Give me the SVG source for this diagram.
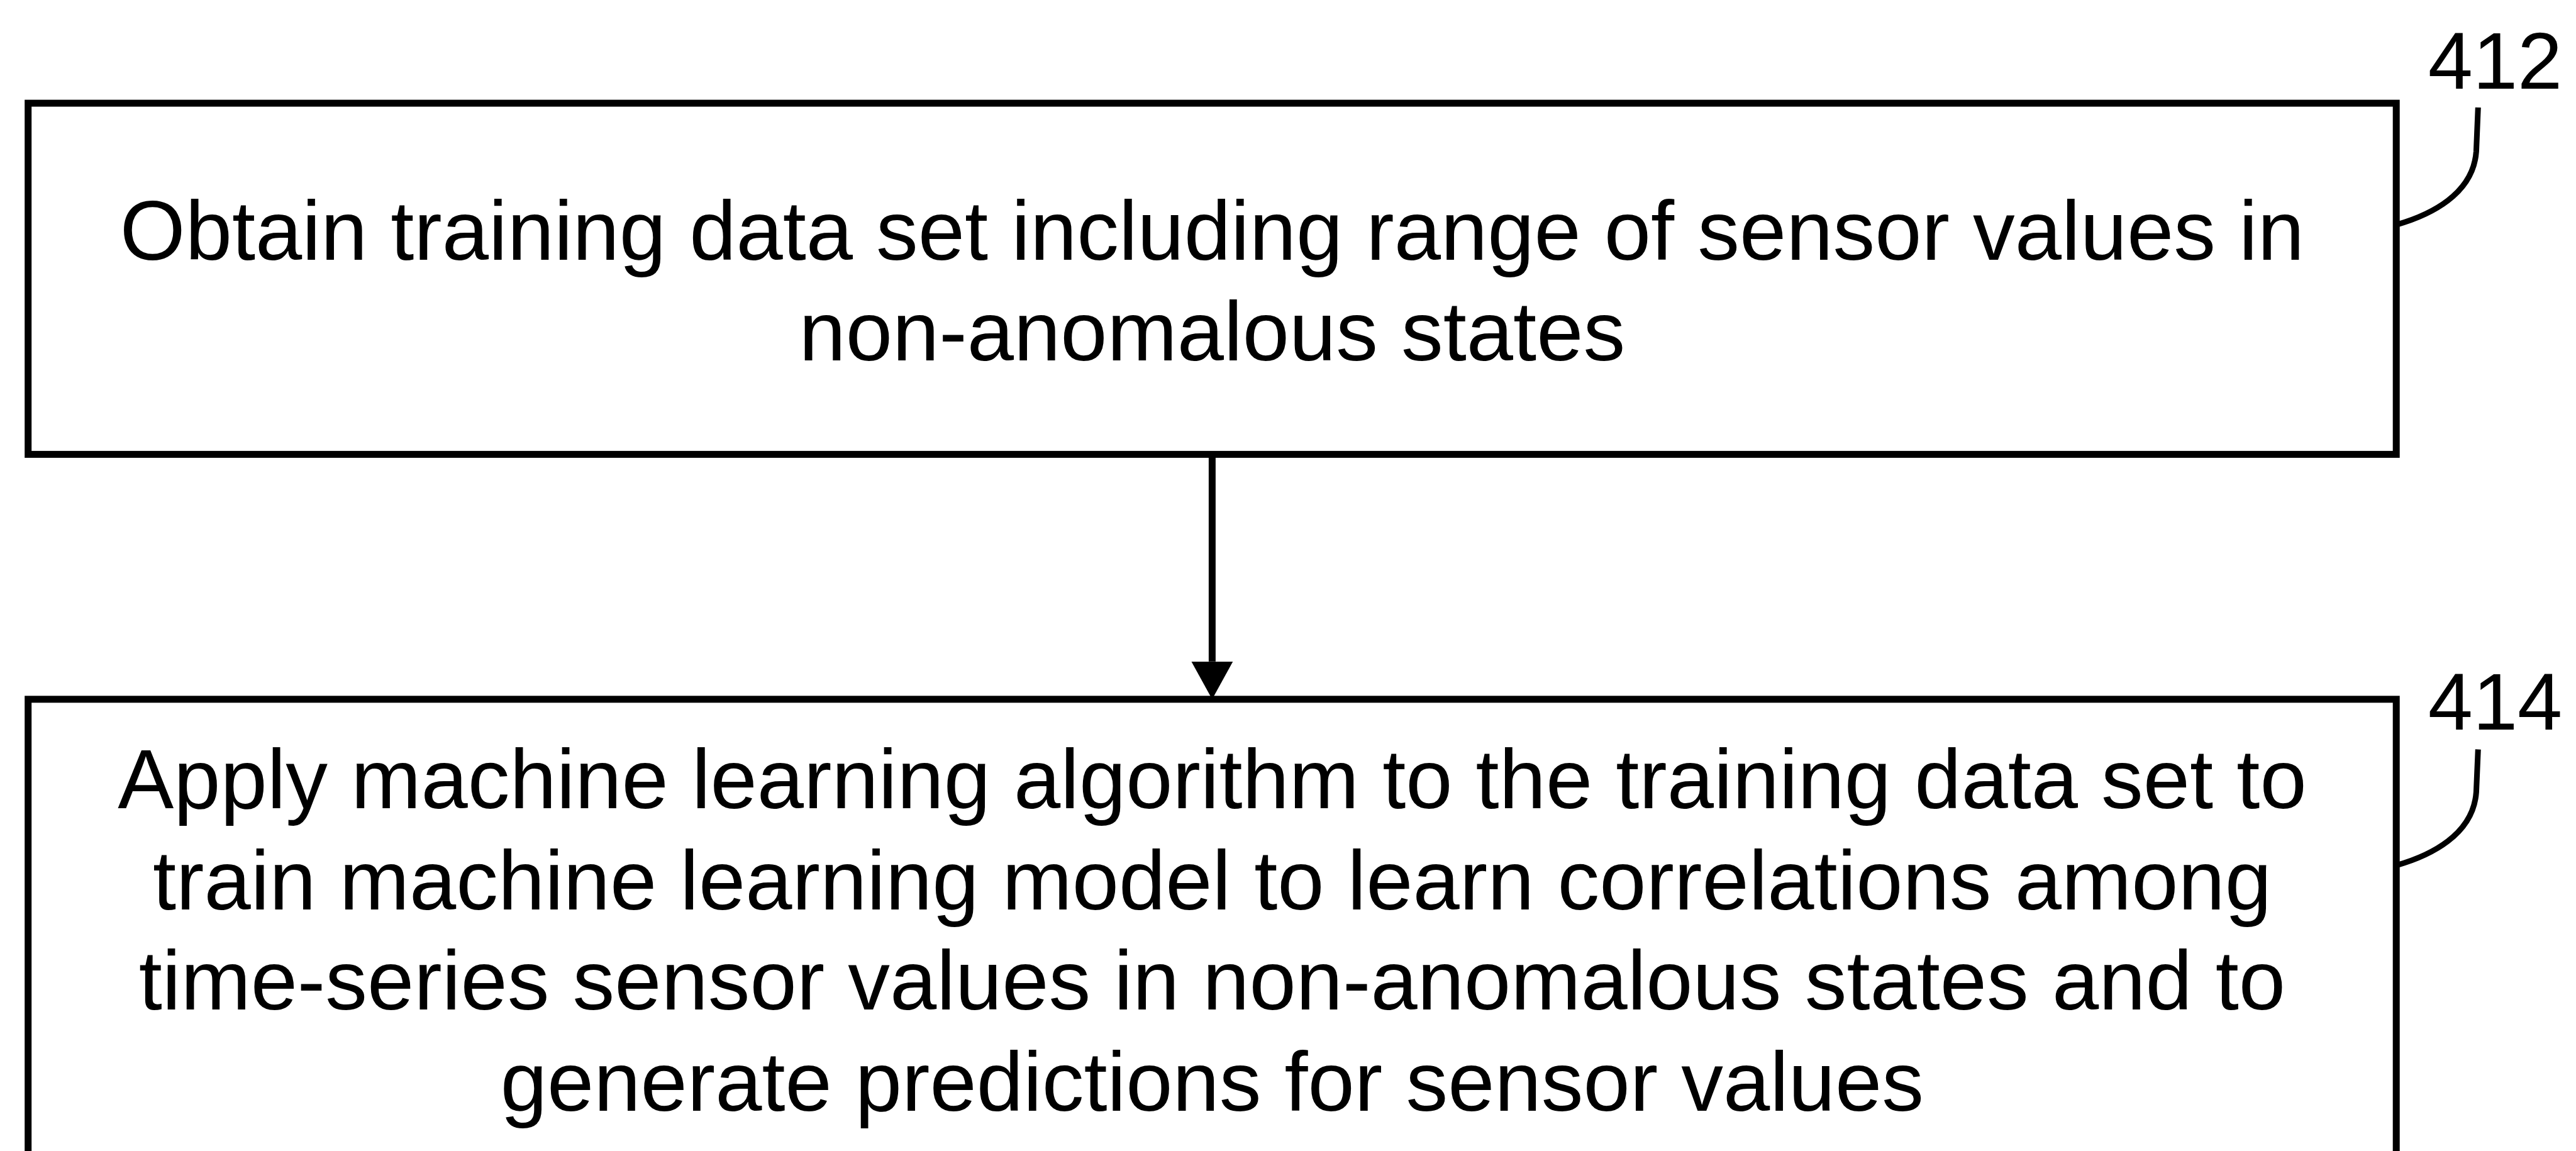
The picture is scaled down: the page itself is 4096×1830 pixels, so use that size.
<svg xmlns="http://www.w3.org/2000/svg" width="4096" height="1830" viewBox="0 0 4096 1830">
  <style>
    .box { fill: #ffffff; stroke: #000000; stroke-width: 11; }
    .txt { font-family: "Liberation Sans", Arial, Helvetica, sans-serif; font-size: 133.5px; fill: #000000; text-anchor: middle; }
    .ref { font-family: "Liberation Sans", Arial, Helvetica, sans-serif; font-size: 128px; fill: #000000; }
    .lead { fill: none; stroke: #000000; stroke-width: 9; }
    .flow { fill: none; stroke: #000000; stroke-width: 11; }
  </style>
  <defs>
    <marker id="arrowhead" viewBox="0 0 60 66" refX="0" refY="33" markerWidth="60" markerHeight="66" markerUnits="userSpaceOnUse" orient="auto">
      <path d="M0,0 L60,33 L0,66 Z" fill="#000000"/>
    </marker>
  </defs>
  <rect x="0" y="0" width="4096" height="1830" fill="#ffffff"/>

  <!-- step 412 -->
  <g id="step-412">
    <rect class="box" x="44.7" y="164.1" width="3765.5" height="558.3"/>
    <text class="txt" x="1927.4" y="412.7">Obtain training data set including range of sensor values in</text>
    <text class="txt" x="1927.4" y="572.9">non-anomalous states</text>
    <path class="lead" d="M3810.2,357.3 C3864.6,341.8 3932.6,308.7 3937.4,240.8 L3940.3,170.9"/>
    <text class="ref" x="3860.7" y="140.8">412</text>
  </g>

  <!-- step 414 (continues below the sheet edge) -->
  <g id="step-414">
    <rect class="box" x="44.7" y="1111.8" width="3765.5" height="800"/>
    <text class="txt" x="1927.4" y="1284.6">Apply machine learning algorithm to the training data set to</text>
    <text class="txt" x="1927.4" y="1445.8">train machine learning model to learn correlations among</text>
    <text class="txt" x="1927.4" y="1605.1">time-series sensor values in non-anomalous states and to</text>
    <text class="txt" x="1927.4" y="1766.2">generate predictions for sensor values</text>
    <path class="lead" d="M3810.2,1375.9 C3864.6,1360.4 3932.6,1327.3 3937.4,1259.4 L3940.3,1191.5"/>
    <text class="ref" x="3860.7" y="1160.3">414</text>
  </g>

  <!-- connectors -->
  <g id="connectors">
    <line class="flow" x1="1927.4" y1="722.4" x2="1927.4" y2="1051.8" marker-end="url(#arrowhead)"/>
  </g>
</svg>
